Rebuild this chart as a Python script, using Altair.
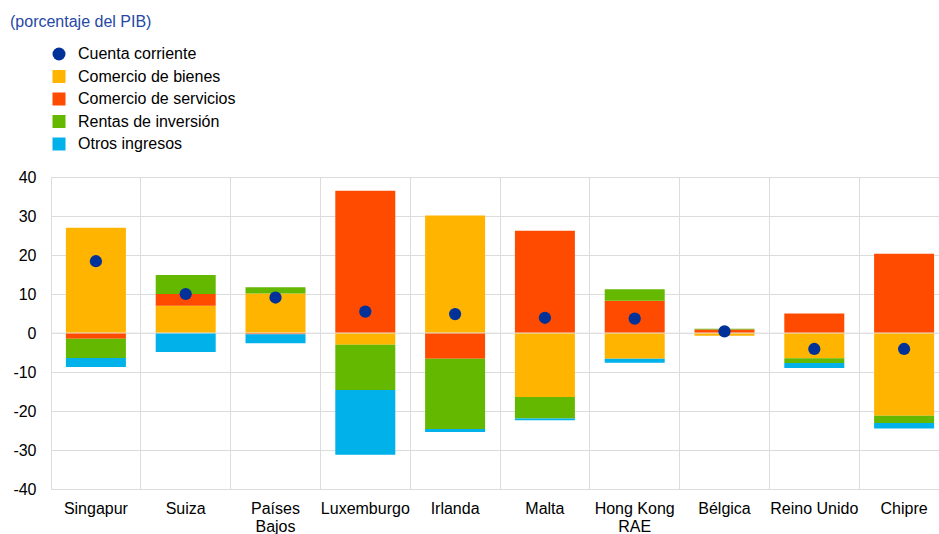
import altair as alt
import pandas as pd

paises = ["Singapur", "Suiza", "Países Bajos", "Luxemburgo", "Irlanda",
          "Malta", "Hong Kong RAE", "Bélgica", "Reino Unido", "Chipre"]
bienes = [27.0, 7.0, 10.1, -3.0, 30.1, -16.4, -6.6, -0.7, -6.5, -21.2]
servicios = [-1.5, 3.0, -0.3, 36.5, -6.6, 26.2, 8.3, 0.9, 5.0, 20.3]
rentas = [-4.9, 4.9, 1.6, -11.6, -18.0, -5.5, 2.9, 0.2, -1.2, -1.9]
otros = [-2.3, -4.9, -2.3, -16.6, -0.8, -0.5, -1.0, 0.0, -1.3, -1.4]
cuenta = [18.4, 10.0, 9.1, 5.5, 4.85, 3.9, 3.7, 0.4, -4.1, -4.1]

series = ["Cuenta corriente", "Comercio de bienes", "Comercio de servicios",
          "Rentas de inversión", "Otros ingresos"]
colores = ["#003299", "#FFB400", "#FF4B00", "#65B800", "#00B1EA"]
formas = ["circle", "square", "square", "square", "square"]

rows = []
for i, p in enumerate(paises):
    for k, (name, vals) in enumerate(zip(series[1:], [bienes, servicios, rentas, otros])):
        rows.append({"pais": p, "serie": name, "valor": vals[i], "orden": k})
df_bars = pd.DataFrame(rows)
df_dots = pd.DataFrame({"pais": paises, "valor": cuenta, "serie": series[0]})

FONT = "Arial"

color_scale = alt.Scale(domain=series, range=colores)
shape_scale = alt.Scale(domain=series, range=formas)
x_scale = alt.Scale(paddingInner=0, paddingOuter=0, range=[0, 898])
x_axis = alt.Axis(title=None, labelAngle=0, grid=True, bandPosition=0,
                  ticks=False, domain=False, labelPadding=11,
                  labelFontSize=16, labelFont=FONT, labelColor="#000000",
                  gridColor="#dcdcdc", gridWidth=1,
                  labelExpr="datum.label == 'Países Bajos' ? ['Países', 'Bajos'] : datum.label == 'Hong Kong RAE' ? ['Hong Kong', 'RAE'] : datum.label")

y_scale = alt.Scale(domain=[-40, 40], nice=False, zero=False)
y_axis = alt.Axis(title=None, values=list(range(-40, 41, 10)), ticks=False,
                  domain=False, labelPadding=15, labelFontSize=16, labelFont=FONT,
                  labelColor="#000000", gridColor="#dcdcdc", gridWidth=1,
                  labelOverlap=False, labelExpr="'' + datum.value")


def make_legend():
    return alt.Legend(title=None, orient="none", legendX=0, legendY=-131,
                      symbolSize=169, symbolStrokeWidth=0,
                      labelFontSize=16, labelFont=FONT, labelColor="#000000",
                      labelOffset=11, rowPadding=6.5, padding=0)


bars = alt.Chart(df_bars).mark_bar(size=60).encode(
    x=alt.X("pais:N", sort=paises, scale=x_scale, axis=x_axis),
    y=alt.Y("valor:Q", stack="zero", scale=y_scale, axis=y_axis),
    color=alt.Color("serie:N", scale=color_scale, legend=make_legend(), sort=series),
    order=alt.Order("orden:Q", sort="ascending"),
)

zero = alt.Chart(pd.DataFrame({"v": [0]})).mark_rule(color="#e4e4e4", strokeWidth=1).encode(
    y=alt.Y("v:Q", scale=y_scale, axis=y_axis)
)

dots = alt.Chart(df_dots).mark_point(size=150, opacity=1, filled=True).encode(
    x=alt.X("pais:N", sort=paises, scale=x_scale, axis=x_axis),
    y=alt.Y("valor:Q", scale=y_scale, axis=y_axis),
    color=alt.Color("serie:N", scale=color_scale, legend=make_legend(), sort=series),
    shape=alt.Shape("serie:N", scale=shape_scale, legend=make_legend(), sort=series),
)

chart = alt.layer(bars, zero, dots).properties(
    width=888, height=312,
    title=alt.TitleParams("(porcentaje del PIB)", anchor="start", frame="group",
                          dx=-41, offset=16, fontSize=16, font=FONT,
                          fontWeight="normal", color="#2648A4"),
    autosize=alt.AutoSizeParams(type="none"),
    padding={"left": 51, "top": 177, "right": 0, "bottom": 45},
).configure_view(stroke=None).configure(background="white")

chart.save("out.html", embed_options={"renderer": "svg", "actions": False})
